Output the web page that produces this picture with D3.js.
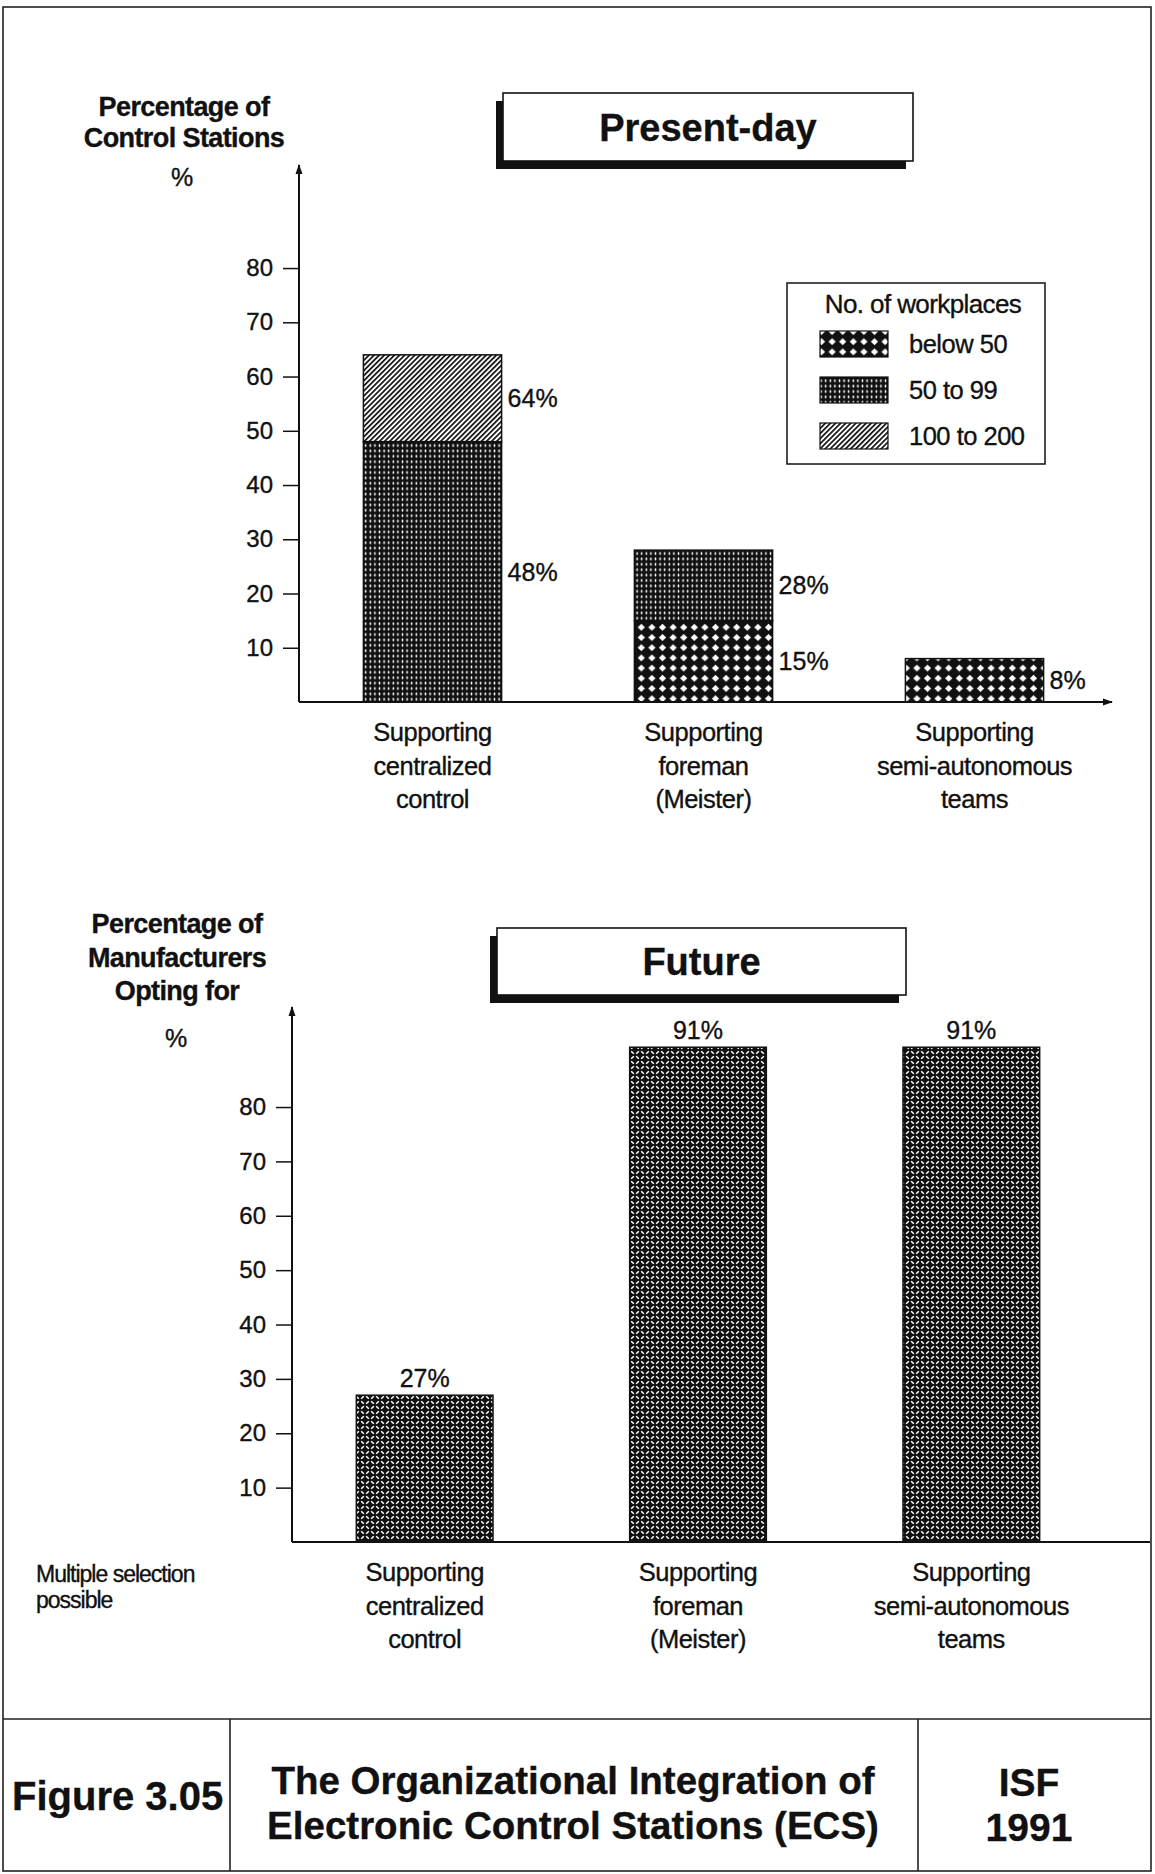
<!DOCTYPE html>
<html>
<head>
<meta charset="utf-8">
<script src="https://cdn.jsdelivr.net/npm/d3@7/dist/d3.min.js"></script>
<style>
  html, body { margin: 0; padding: 0; background: #fff; }
  svg { display: block; font-family: "Liberation Sans", Arial, Helvetica, sans-serif; }
  text { fill: #111; stroke: #111; stroke-width: 0.35px; }
</style>
</head>
<body>
<script>
// ---- data ----
const categories = ["Supporting centralized control", "Supporting foreman (Meister)", "Supporting semi-autonomous teams"];
const categoryLines = [["Supporting", "centralized", "control"], ["Supporting", "foreman", "(Meister)"], ["Supporting", "semi-autonomous", "teams"]];
const sizeGroups = ["below 50", "50 to 99", "100 to 200"];
const presentBelow50 = [0, 15, 8];
const present50to99 = [48, 13, 0];
const present100to200 = [16, 0, 0];
const futureValues = [27, 91, 91];
const yTickValues = [10, 20, 30, 40, 50, 60, 70, 80];

const W = 1155, H = 1874;
const svg = d3.select("body").append("svg").attr("width", W).attr("height", H);
const defs = svg.append("defs");
const ink = "#111";

// ---- fill patterns ----
const pBelow = defs.append("pattern").attr("id", "pat-below50").attr("patternUnits", "userSpaceOnUse")
  .attr("width", 10.6).attr("height", 10.2);
pBelow.append("rect").attr("width", 10.6).attr("height", 10.2).attr("fill", ink);
pBelow.append("path").attr("d", "M5.3,1.6 L8.9,5.1 L5.3,8.6 L1.7,5.1 Z").attr("fill", "#fff");

const pMid = defs.append("pattern").attr("id", "pat-50to99").attr("patternUnits", "userSpaceOnUse")
  .attr("width", 4.6).attr("height", 5.4);
pMid.append("rect").attr("width", 4.6).attr("height", 5.4).attr("fill", ink);
pMid.append("ellipse").attr("cx", 2.3).attr("cy", 2.7).attr("rx", 0.85).attr("ry", 1.5).attr("fill", "#fff");

const pTop = defs.append("pattern").attr("id", "pat-100to200").attr("patternUnits", "userSpaceOnUse")
  .attr("width", 3.6).attr("height", 10).attr("patternTransform", "rotate(45)");
pTop.append("rect").attr("width", 3.6).attr("height", 10).attr("fill", "#fff");
pTop.append("rect").attr("width", 1.7).attr("height", 10).attr("fill", ink);

const pWeave = defs.append("pattern").attr("id", "pat-weave").attr("patternUnits", "userSpaceOnUse")
  .attr("width", 10).attr("height", 10);
pWeave.append("rect").attr("width", 10).attr("height", 10).attr("fill", ink);
pWeave.append("path")
  .attr("d", "M1.2,1.2 L3.8,3.8 M6.2,3.8 L8.8,1.2 M1.2,8.8 L3.8,6.2 M6.2,6.2 L8.8,8.8")
  .attr("stroke", "#fff").attr("stroke-width", 1.5).attr("stroke-linecap", "butt");

const fills = { "below 50": "url(#pat-below50)", "50 to 99": "url(#pat-50to99)", "100 to 200": "url(#pat-100to200)" };

defs.append("marker").attr("id", "arrow").attr("viewBox", "0 0 10 10").attr("refX", 9).attr("refY", 5)
  .attr("markerWidth", 5).attr("markerHeight", 5).attr("orient", "auto")
  .append("path").attr("d", "M0,1.5 L10,5 L0,8.5 Z").attr("fill", ink);

// ---- page frame ----
const frame = svg.append("g").attr("fill", "none").attr("stroke", "#222").attr("stroke-width", 1.6);
frame.append("rect").attr("x", 3).attr("y", 7).attr("width", 1148).attr("height", 1864);
frame.append("line").attr("x1", 3).attr("x2", 1151).attr("y1", 1719).attr("y2", 1719);
frame.append("line").attr("x1", 230).attr("x2", 230).attr("y1", 1719).attr("y2", 1871);
frame.append("line").attr("x1", 918).attr("x2", 918).attr("y1", 1719).attr("y2", 1871);

// ---- helpers ----
function titleBox(x, y, w, h, label) {
  const g = svg.append("g");
  g.append("rect").attr("x", x - 7).attr("y", y + 8).attr("width", w).attr("height", h).attr("fill", ink);
  g.append("rect").attr("x", x).attr("y", y).attr("width", w).attr("height", h)
    .attr("fill", "#fff").attr("stroke", ink).attr("stroke-width", 1.6);
  g.append("text").attr("x", x + w / 2).attr("y", y + h / 2).attr("dy", "0.36em")
    .attr("text-anchor", "middle").attr("font-size", 38).attr("font-weight", "bold").text(label);
}

function yAxisBlock(x, y, x0) {
  const ax = svg.append("g").attr("transform", `translate(${x0},0)`)
    .call(d3.axisLeft(y).tickValues(yTickValues).tickSize(16).tickPadding(10).tickFormat(d3.format("d")));
  ax.select(".domain").remove();
  ax.selectAll(".tick line").attr("stroke", ink).attr("stroke-width", 1.5);
  ax.selectAll(".tick text").attr("font-size", 24).attr("fill", ink)
    .attr("font-family", "Liberation Sans, Arial, sans-serif");
  svg.append("line").attr("x1", x0).attr("x2", x0).attr("y1", y(0)).attr("y2", y.range()[1])
    .attr("stroke", ink).attr("stroke-width", 2).attr("marker-end", "url(#arrow)");
}

function categoryLabels(x, baseY) {
  categories.forEach((c, i) => {
    const t = svg.append("text").attr("x", x(c) + x.bandwidth() / 2).attr("y", baseY)
      .attr("text-anchor", "middle").attr("font-size", 25.5).attr("letter-spacing", -0.5);
    categoryLines[i].forEach((line, j) => {
      t.append("tspan").attr("x", x(c) + x.bandwidth() / 2).attr("dy", j === 0 ? 0 : 33.5).text(line);
    });
  });
}

// ================= Present-day =================
const yTop = d3.scaleLinear().domain([0, 99]).range([702, 165]);
const xTop = d3.scaleBand().domain(categories).range([297, 1110]).paddingInner(0.49).paddingOuter(0.245);

const presentRows = categories.map((c, i) => ({
  category: c,
  "below 50": presentBelow50[i],
  "50 to 99": present50to99[i],
  "100 to 200": present100to200[i]
}));
const stacked = d3.stack().keys(sizeGroups)(presentRows);

const barsTop = svg.append("g");
stacked.forEach(layer => {
  layer.forEach(seg => {
    if (seg[1] - seg[0] <= 0) return;
    const cat = seg.data.category;
    barsTop.append("rect")
      .attr("x", xTop(cat)).attr("width", xTop.bandwidth())
      .attr("y", yTop(seg[1])).attr("height", yTop(seg[0]) - yTop(seg[1]))
      .attr("fill", fills[layer.key]).attr("stroke", ink).attr("stroke-width", 1.5);
    barsTop.append("text")
      .attr("x", xTop(cat) + xTop.bandwidth() + 6)
      .attr("y", yTop((seg[0] + seg[1]) / 2)).attr("dy", "0.36em")
      .attr("font-size", 25).text(seg[1] + "%");
  });
});

yAxisBlock(xTop, yTop, 299);
svg.append("line").attr("x1", 299).attr("x2", 1112).attr("y1", yTop(0)).attr("y2", yTop(0))
  .attr("stroke", ink).attr("stroke-width", 2).attr("marker-end", "url(#arrow)");
categoryLabels(xTop, 741);

const tTop = svg.append("text").attr("x", 184).attr("y", 116).attr("text-anchor", "middle")
  .attr("font-size", 27).attr("font-weight", "bold").attr("letter-spacing", -0.6);
tTop.append("tspan").attr("x", 184).text("Percentage of");
tTop.append("tspan").attr("x", 184).attr("dy", 31).text("Control Stations");
svg.append("text").attr("x", 182).attr("y", 186).attr("text-anchor", "middle").attr("font-size", 25).text("%");

titleBox(503, 93, 410, 68, "Present-day");

// legend
const lg = svg.append("g");
lg.append("rect").attr("x", 787).attr("y", 283).attr("width", 258).attr("height", 181)
  .attr("fill", "#fff").attr("stroke", ink).attr("stroke-width", 1.5);
lg.append("text").attr("x", 923).attr("y", 313).attr("text-anchor", "middle").attr("font-size", 26)
  .attr("letter-spacing", -0.6).text("No. of workplaces");
sizeGroups.forEach((g, i) => {
  const cy = 344 + i * 46;
  lg.append("rect").attr("x", 820).attr("y", cy - 13).attr("width", 68).attr("height", 26)
    .attr("fill", fills[g]).attr("stroke", ink).attr("stroke-width", 1.2);
  lg.append("text").attr("x", 909).attr("y", cy).attr("dy", "0.36em").attr("font-size", 25.5)
    .attr("letter-spacing", -0.5).text(g);
});

// ================= Future =================
const yBot = d3.scaleLinear().domain([0, 98.4]).range([1542, 1007]);
const xBot = d3.scaleBand().domain(categories).range([288, 1108]).paddingInner(0.5).paddingOuter(0.25);

const barsBot = svg.append("g");
categories.forEach((c, i) => {
  barsBot.append("rect").attr("x", xBot(c)).attr("width", xBot.bandwidth())
    .attr("y", yBot(futureValues[i])).attr("height", yBot(0) - yBot(futureValues[i]))
    .attr("fill", "url(#pat-weave)").attr("stroke", ink).attr("stroke-width", 1.5);
  barsBot.append("text").attr("x", xBot(c) + xBot.bandwidth() / 2).attr("y", yBot(futureValues[i]) - 8)
    .attr("text-anchor", "middle").attr("font-size", 25).text(futureValues[i] + "%");
});

yAxisBlock(xBot, yBot, 292);
svg.append("line").attr("x1", 292).attr("x2", 1150).attr("y1", yBot(0)).attr("y2", yBot(0))
  .attr("stroke", ink).attr("stroke-width", 2);
categoryLabels(xBot, 1581);

const tBot = svg.append("text").attr("x", 177).attr("y", 933).attr("text-anchor", "middle")
  .attr("font-size", 27).attr("font-weight", "bold").attr("letter-spacing", -0.6);
tBot.append("tspan").attr("x", 177).text("Percentage of");
tBot.append("tspan").attr("x", 177).attr("dy", 33.5).text("Manufacturers");
tBot.append("tspan").attr("x", 177).attr("dy", 33.5).text("Opting for");
svg.append("text").attr("x", 176).attr("y", 1047).attr("text-anchor", "middle").attr("font-size", 25).text("%");

titleBox(497, 928, 409, 67, "Future");

const note = svg.append("text").attr("x", 36).attr("y", 1582).attr("font-size", 23).attr("letter-spacing", -1);
note.append("tspan").attr("x", 36).text("Multiple selection");
note.append("tspan").attr("x", 36).attr("dy", 26).text("possible");

// ================= footer =================
svg.append("text").attr("x", 12).attr("y", 1810).attr("font-size", 40).attr("font-weight", "bold")
  .text("Figure 3.05");
const ft = svg.append("text").attr("x", 573).attr("y", 1794).attr("text-anchor", "middle")
  .attr("font-size", 38.5).attr("font-weight", "bold");
ft.append("tspan").attr("x", 573).text("The Organizational Integration of");
ft.append("tspan").attr("x", 573).attr("dy", 45).text("Electronic Control Stations (ECS)");
const fr = svg.append("text").attr("x", 1029).attr("y", 1796).attr("text-anchor", "middle")
  .attr("font-size", 39).attr("font-weight", "bold");
fr.append("tspan").attr("x", 1029).text("ISF");
fr.append("tspan").attr("x", 1029).attr("dy", 45).text("1991");
</script>
</body>
</html>
